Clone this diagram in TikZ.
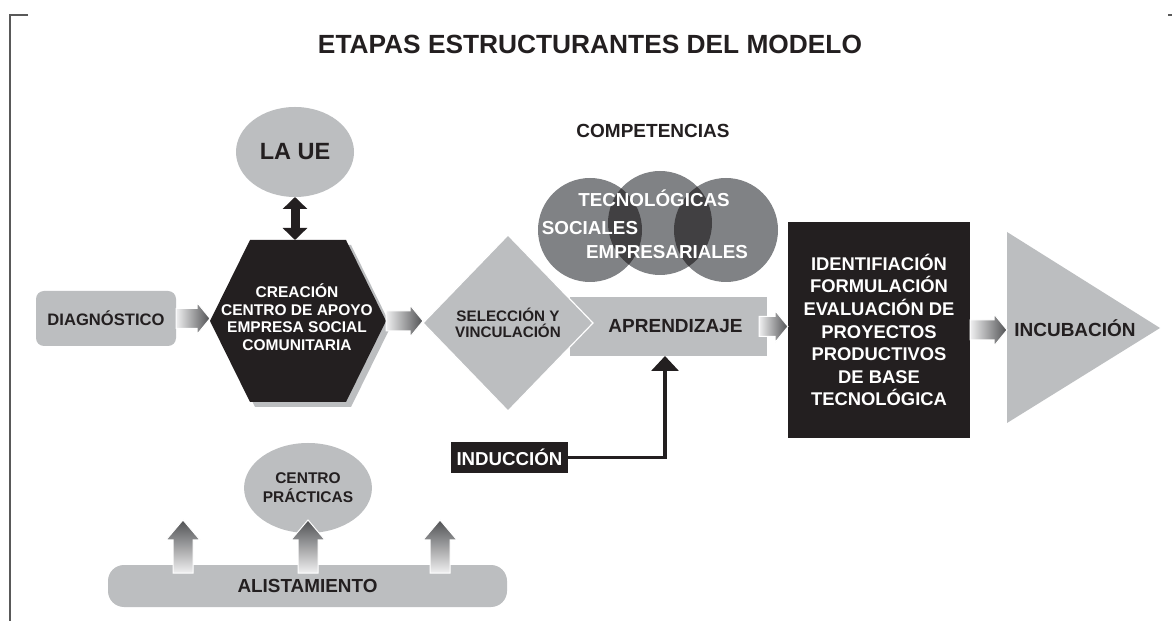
\documentclass[tikz,border=0pt]{standalone}
\usepackage{fontspec}
\setmainfont{Liberation Sans}
\usetikzlibrary{shapes.geometric,arrows.meta,calc}

\newcommand{\flechaH}[2]{%
\shade[left color=arrowLight,right color=arrowDark,draw=white,line width=1pt]
  let \p1=(#1), \p2=(#2) in
  (\x1,\y1-10pt) -- (\x2-13pt,\y1-10pt) -- (\x2-13pt,\y1-16pt) -- (\x2,\y1) --
  (\x2-13pt,\y1+16pt) -- (\x2-13pt,\y1+10pt) -- (\x1,\y1+10pt) -- cycle;}
\newcommand{\flechaV}[2]{%
\shade[bottom color=arrowLight,top color=arrowDark,draw=white,line width=1pt]
  let \p1=(#1), \p2=(#2) in
  (\x1-10pt,\y1) -- (\x1-10pt,\y2-20pt) -- (\x1-17pt,\y2-20pt) -- (\x1,\y2) --
  (\x1+17pt,\y2-20pt) -- (\x1+10pt,\y2-20pt) -- (\x1+10pt,\y1) -- cycle;}

\begin{document}
\begin{tikzpicture}[x=1pt,y=1pt,
  txt/.style={text=textColor,inner sep=0pt,outer sep=0pt,align=center},
  txtblanco/.style={text=white,inner sep=0pt,outer sep=0pt,align=center},
  cajagris/.style={fill=boxGray,inner sep=0pt,outer sep=0pt},
  elipsegris/.style={ellipse,fill=boxGray,inner sep=0pt,outer sep=0pt}]
\definecolor{fillColor}{RGB}{255,255,255}
\definecolor{boxGray}{RGB}{188,190,192}
\definecolor{circGray}{RGB}{128,130,133}
\definecolor{overGray}{RGB}{65,64,66}
\definecolor{blackBox}{RGB}{35,31,32}
\definecolor{textColor}{RGB}{35,31,32}
\definecolor{arrowLight}{RGB}{240,240,241}
\definecolor{arrowDark}{RGB}{80,81,83}
\definecolor{frameColor}{gray}{0.35}
\path[use as bounding box,fill=fillColor] (0,0) rectangle (1172,621);

\path[draw=frameColor,line width=1.5pt] (28,606) -- (10,606) -- (10,0);
\path[draw=frameColor,line width=1.5pt] (1168,606) -- (1172,606);

\node[txt,font=\fontsize{26.3}{30}\selectfont\bfseries] (titulo) at (590,577) {ETAPAS ESTRUCTURANTES DEL MODELO};

\node[elipsegris,minimum width=118pt,minimum height=90pt,txt,font=\fontsize{23.5}{27}\selectfont\bfseries] (laue) at (295,469) {LA UE};

\node[cajagris,rounded corners=8pt,minimum width=140pt,minimum height=55pt,txt,font=\fontsize{16.6}{20}\selectfont\bfseries] (diag) at (106,302.5) {DIAGN\'OSTICO};

\path[fill=boxGray] (255,376) -- (351,376) -- (391,295) -- (351,214) -- (255,214) -- (215,295) -- cycle;
\path[fill=blackBox] (250,381) -- (346,381) -- (386,300) -- (346,219) -- (250,219) -- (210,300) -- cycle;
\coordinate (hexN) at (298,381);
\coordinate (hexW) at (210,300);
\coordinate (hexE) at (386,300);
\node[txtblanco,font=\fontsize{15.5}{17.5}\selectfont\bfseries] (crea) at (297,304) {CREACI\'ON\\CENTRO DE APOYO\\EMPRESA SOCIAL\\COMUNITARIA};

\draw[draw=blackBox,line width=9pt,{Triangle[width=24pt,length=12pt]}-{Triangle[width=24pt,length=12pt]}] (laue.south) -- (laue.south |- hexN);

\node[cajagris,minimum width=197pt,minimum height=59pt] (aprend) at (668.5,294.5) {};
\node[txt,font=\fontsize{19}{22}\selectfont\bfseries] (aprendtxt) at ([xshift=7pt]aprend.center) {APRENDIZAJE};

\node[diamond,fill=boxGray,draw=white,line width=1.2pt,minimum width=170pt,minimum height=176pt,txt,font=\fontsize{15.2}{16.5}\selectfont\bfseries] (selec) at (508,298) {SELECCI\'ON Y\\VINCULACI\'ON};

\node[txt,font=\fontsize{19}{22}\selectfont\bfseries] (compet) at (653,490) {COMPETENCIAS};

\path[fill=circGray] (590,391) circle (52pt);
\path[fill=circGray] (660,398) circle (52pt);
\path[fill=circGray] (726,391) circle (52pt);
\begin{scope}
\path[clip] (590,391) circle (52pt);
\path[fill=overGray] (660,398) circle (52pt);
\end{scope}
\begin{scope}
\path[clip] (726,391) circle (52pt);
\path[fill=overGray] (660,398) circle (52pt);
\end{scope}
\node[txtblanco,font=\fontsize{18.8}{22}\selectfont\bfseries] (tecno) at (654,423) {TECNOL\'OGICAS};
\node[txtblanco,font=\fontsize{18.8}{22}\selectfont\bfseries] (social) at (590,393) {SOCIALES};
\node[txtblanco,font=\fontsize{18.8}{22}\selectfont\bfseries] (empre) at (667,369) {EMPRESARIALES};

\node[fill=blackBox,minimum width=182pt,minimum height=216pt,txtblanco,font=\fontsize{18.4}{22.6}\selectfont\bfseries] (ident) at (879,291) {IDENTIFIACI\'ON\\FORMULACI\'ON\\EVALUACI\'ON DE\\PROYECTOS\\PRODUCTIVOS\\DE BASE\\TECNOL\'OGICA};

\path[fill=boxGray] (1007,389) -- (1160,293) -- (1007,198) -- cycle;
\coordinate (triW) at (1007,291);
\node[txt,font=\fontsize{19}{22}\selectfont\bfseries] (incub) at (1075,293) {INCUBACI\'ON};

\node[fill=blackBox,minimum width=117pt,minimum height=31pt,txtblanco,font=\fontsize{18.7}{22}\selectfont\bfseries] (induc) at (509.5,163.5) {INDUCCI\'ON};
\draw[draw=blackBox,line width=3.5pt,-{Triangle[width=27pt,length=15pt]}] (induc.east) -| ([xshift=-3.5pt]aprend.south);

\flechaH{diag.east}{hexW}
\flechaH{hexE}{selec.west}
\flechaH{[xshift=-8pt]aprend.east}{ident.west}
\flechaH{ident.east}{triW}

\node[elipsegris,minimum width=120pt,minimum height=90pt,txt,font=\fontsize{15.5}{19}\selectfont\bfseries] (centro) at (308,133) {CENTRO\\PR\'ACTICAS};

\node[cajagris,rounded corners=16pt,minimum width=399pt,minimum height=42pt,txt,font=\fontsize{18.9}{22}\selectfont\bfseries] (alist) at (307.5,35) {ALISTAMIENTO};

\coordinate (baseA) at (183,48);
\coordinate (puntaA) at (183,101);
\coordinate (baseB) at (308,48);
\coordinate (puntaB) at (308,101);
\coordinate (baseC) at (440,48);
\coordinate (puntaC) at (440,101);
\flechaV{baseA}{puntaA}
\flechaV{baseB}{puntaB}
\flechaV{baseC}{puntaC}
\end{tikzpicture}
\end{document}
